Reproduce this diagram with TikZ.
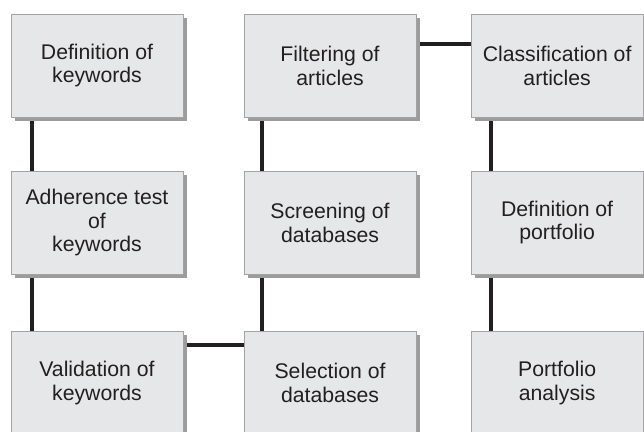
\documentclass[tikz,border=0pt]{standalone}
\usepackage{fontspec}
\setmainfont{Liberation Sans}
\usetikzlibrary{backgrounds}
\usetikzlibrary{shadows, positioning}
\definecolor{boxfill}{HTML}{E6E7E8}
\definecolor{boxline}{HTML}{A3A3A3}
\definecolor{shadowgray}{HTML}{9C9C9C}
\definecolor{ink}{HTML}{231F20}
\tikzset{node distance=5.825cm,
    stage/.style={rectangle,draw=boxline,line width=0.6pt,fill=boxfill,
        minimum width=4.3cm,minimum height=2.575cm,align=center,text=ink,
        font=\fontsize{15.1}{17}\selectfont,
        drop shadow={shadow xshift=0.1cm,shadow yshift=-0.1cm,fill=shadowgray,opacity=1}},
    link/.style={draw=ink,line width=2.9pt}}

\begin{document}
\begin{tikzpicture}[x=0.025cm,y=-0.025cm]
\useasboundingbox (0,0) rectangle (644,432);
\clip (0,0) rectangle (644,432);

\node[stage] (defkw) at (97,65.5) {Definition of\\keywords};
\node[stage] (filter) [right of=defkw] {Filtering of\\articles};
\node[stage,node distance=5.675cm] (classif) [right of=filter] {Classification of\\articles};

\node[stage,node distance=3.925cm] (adher) [below of=defkw] {Adherence test\\of\\keywords};
\node[stage] (screen) [right of=adher] {Screening of\\databases};
\node[stage,node distance=5.675cm] (defport) [right of=screen] {Definition of\\portfolio};

\node[stage,node distance=4cm] (valid) [below of=adher] {Validation of\\keywords};
\node[stage] (select) [right of=valid] {Selection of\\databases};
\node[stage,node distance=5.675cm] (analysis) [right of=select] {Portfolio\\analysis};

\begin{scope}[on background layer]
\draw[link]
    ([xshift=-1.625cm]defkw.south) -- ([xshift=-1.625cm]adher.north)
    ([xshift=-1.625cm]adher.south) -- ([xshift=-1.625cm]valid.north)
    ([yshift=0.9375cm]valid.east) -- ([yshift=0.9375cm]select.west)
    ([xshift=-1.7cm]select.north) -- ([xshift=-1.7cm]screen.south)
    ([xshift=-1.7cm]screen.north) -- ([xshift=-1.7cm]filter.south)
    ([yshift=0.5375cm]filter.east) -- ([yshift=0.5375cm]classif.west)
    ([xshift=-1.65cm]classif.south) -- ([xshift=-1.65cm]defport.north)
    ([xshift=-1.65cm]defport.south) -- ([xshift=-1.65cm]analysis.north);
\end{scope}
\end{tikzpicture}
\end{document}
